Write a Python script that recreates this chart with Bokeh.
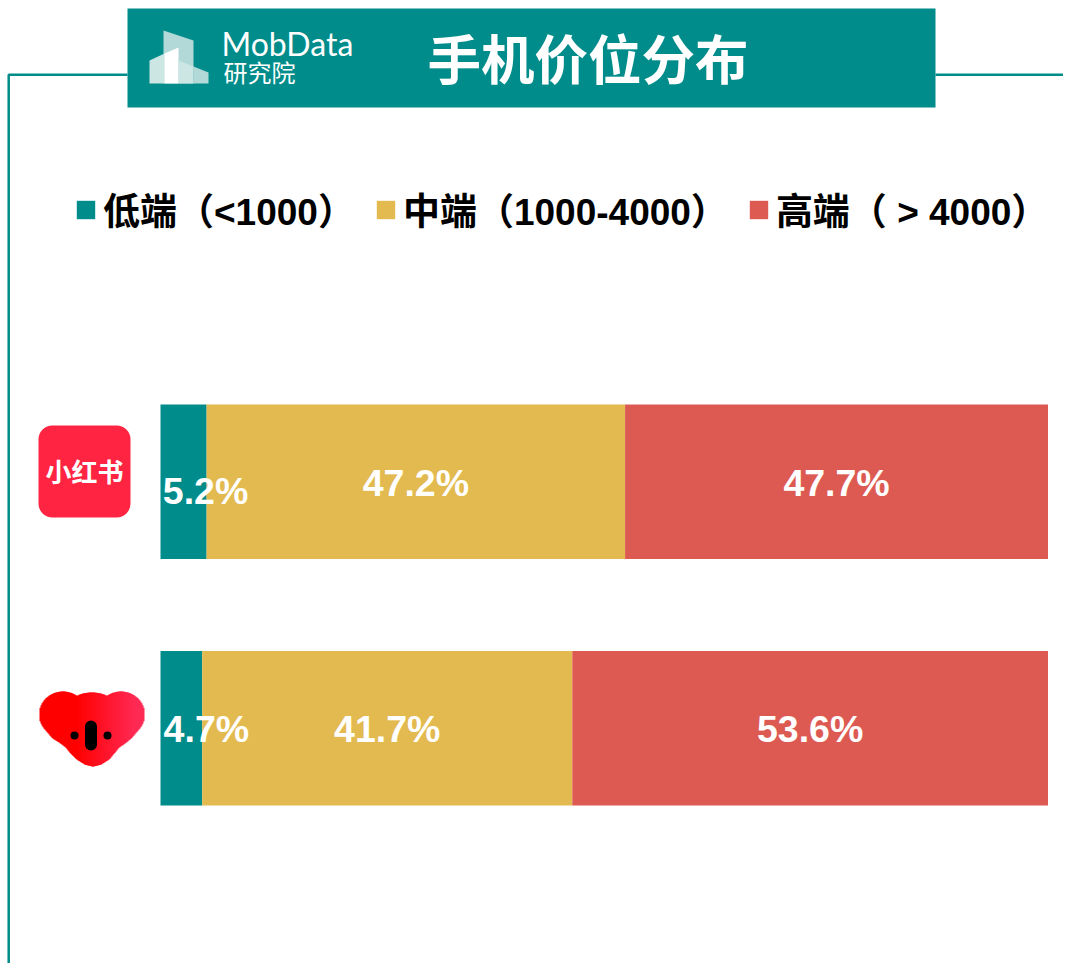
import numpy as np
from bokeh.plotting import figure
from bokeh.embed import file_html
from bokeh.resources import INLINE
from bokeh.models import Range1d, Legend, LegendItem, ColumnDataSource
from bokeh.core.properties import value

# ---- data ----
apps = ["小红书", "考拉"]
tiers = ["低端（<1000）", "中端（1000-4000）", "高端（ > 4000）"]
low = [5.2, 4.7]
mid = [47.2, 41.7]
high = [47.7, 53.6]
title = "手机价位分布"

TEAL, GOLD, RED = "#008c8a", "#e3ba4f", "#dd5a52"
FONT = "'Liberation Sans', 'Noto Sans CJK SC', sans-serif"
CJK = "'Noto Sans CJK SC', sans-serif"

# the figure's main ranges are its own pixels
R, B = 1063, 963
p = figure(width=R, height=B, x_range=(0, R), y_range=(B, 0),
           output_backend="svg", toolbar_location=None, min_border=0,
           outline_line_color=None)
p.axis.visible = False
p.grid.visible = False
p.styles = {"margin-bottom": "-16px"}

# scales for the bars: 0..100% spans px 160..1047.5, rows 246.5px apart
x0, x100 = 160.0, 1047.5
k = (x100 - x0) / 100
p.extra_x_ranges["pct"] = Range1d((0 - x0) / k, (R - x0) / k)
yc0, dy = 481.2, 246.5
p.extra_y_ranges["row"] = Range1d((B - yc0) / dy, (0 - yc0) / dy)

# frame
p.line([127, 8.2, 8.2], [74.3, 74.3, B], line_color=TEAL, line_width=2.5)
p.line([935, R], [74.3, 74.3], line_color=TEAL, line_width=2.5)

# header
p.quad(left=[127], right=[935], top=[8], bottom=[107], color=TEAL, line_color=None)
p.patch([163, 193, 193, 163], [30, 40, 83, 83], color="#b2d9d7", line_color=None)
p.patch([149, 164, 164, 149], [60, 53, 83, 83], color="#cce6e4", line_color=None)
p.patch([164, 178, 178, 164], [53, 47, 83, 83], color="#ffffff", line_color=None)
p.patch([178, 193, 193, 178], [60, 66, 83, 83], color="#cce6e4", line_color=None)
p.patch([193, 208, 208, 193], [66, 72, 83, 83], color="#b2d9d7", line_color=None)


def txt(x, y, s, size, font=FONT, style="bold", align="left", color="#ffffff"):
    p.text([x], [y], text=[s], text_font=value(font), text_font_size=f"{size}px",
           text_font_style=style, text_align=align, text_baseline="middle",
           text_color=color)


txt(221, 43, "MobData", 32, "Lato", "normal")
txt(223, 71, "研究院", 24, CJK, "normal")
txt(427, 56, title, 53.5, CJK, "bold")

# stacked bars
rows = list(range(len(apps)))
src = ColumnDataSource(dict(
    y=rows,
    low=[a / (a + b + c) * 100 for a, b, c in zip(low, mid, high)],
    mid=[b / (a + b + c) * 100 for a, b, c in zip(low, mid, high)],
    high=[c / (a + b + c) * 100 for a, b, c in zip(low, mid, high)],
))
rs = p.hbar_stack(["low", "mid", "high"], y="y", height=154.5 / dy, source=src,
                  color=[TEAL, GOLD, RED], line_color=None,
                  x_range_name="pct", y_range_name="row")

# value labels
for i in rows:
    s = sum((low[i], mid[i], high[i]))
    a, b, c = [v / s * 100 for v in (low[i], mid[i], high[i])]
    for cx, v, off, yoff in [(a / 2, low[i], 22 if i == 0 else 25, 9 if i == 0 else 1),
                             (a + b / 2, mid[i], 0, 1),
                             (a + b + c / 2, high[i], 0, 1)]:
        p.text([cx], [i], text=[f"{v}%"], x_range_name="pct", y_range_name="row",
               text_font=value(FONT), text_font_size="37.5px", text_font_style="bold",
               text_color="#ffffff", text_align="center", text_baseline="middle",
               x_offset=off, y_offset=yoff)

# app icons
p.quad(left=[38], right=[130], top=[425], bottom=[517], color="#ff2442", line_color=None,
       border_radius=14)
txt(84, 470, apps[0], 26, CJK, "bold", "center")

# koala: ears and head, with a chin contour, painted in strips for the red gradient
ears = [(62, 714, 23.5, 23), (120, 714, 23.5, 23)]
head = (91, 729, 36, 37)
bx = [45, 52, 60, 65, 70, 76, 84, 92, 100, 108, 113, 118, 124, 130, 137]
by = [730, 738, 743, 747, 753, 759, 764, 766, 764, 759, 753, 747, 743, 738, 730]


def half(e, x):
    d = (x - e[0]) / e[2]
    return e[3] * np.sqrt(1 - d * d) if abs(d) < 1 else None


for xx in range(39, 143):
    xm = xx + 0.5
    tops, bots = [], []
    for e in ears + [head]:
        h = half(e, xm)
        if h is not None:
            tops.append(e[1] - h)
            if e is not head:
                bots.append(e[1] + h)
    if not tops:
        continue
    if 45 <= xm <= 137:
        bots.append(float(np.interp(xm, bx, by)))
    f = min(max((xm - 75) / 60, 0), 1)
    col = "#%02x%02x%02x" % (255, int(42 * f), int(85 * f))
    p.quad(left=[xx], right=[xx + 2], top=[min(tops)], bottom=[max(bots)], color=col, line_color=None)
p.circle([74, 107], [735, 735], radius=4, color="#000000", line_color=None)
p.quad(left=[84.5], right=[96.5], top=[720], bottom=[750], color="#000000", line_color=None,
       border_radius=6)

# legend
legend = Legend(items=[LegendItem(label=value(t), renderers=[r]) for t, r in zip(tiers, rs)],
                orientation="horizontal", location=(74, 727), padding=0, margin=0,
                spacing=19, label_standoff=6, glyph_width=23, glyph_height=23,
                label_text_font=FONT, label_text_font_size="37px",
                label_text_font_style="bold", label_text_color="#000000",
                border_line_color=None, background_fill_alpha=0)
p.add_layout(legend, "center")

open("out.html", "w").write(file_html(p, INLINE))
